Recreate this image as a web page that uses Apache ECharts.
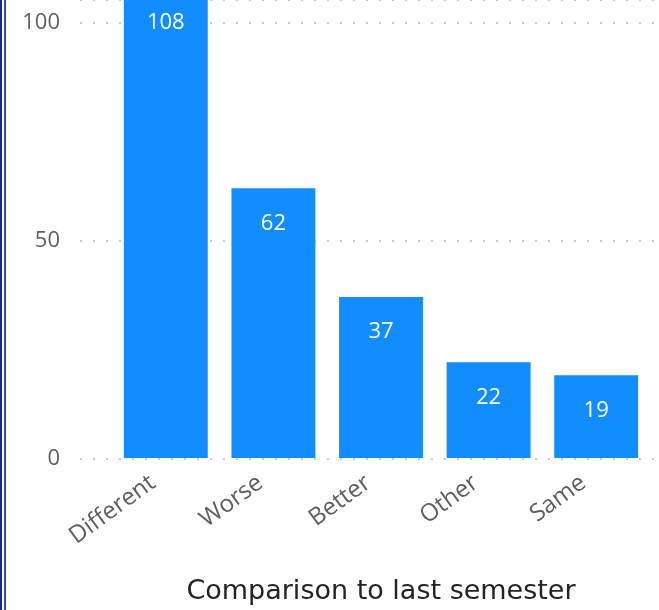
<!DOCTYPE html>
<html><head><meta charset="utf-8">
<script src="https://cdn.jsdelivr.net/npm/echarts@6/dist/echarts.min.js"></script>
<style>html,body{margin:0;padding:0;background:#fff}#c{width:659px;height:610px}</style>
</head><body><div id="c"></div>
<script>
const categories = ['Different', 'Worse', 'Better', 'Other', 'Same'];
const counts = [108, 62, 37, 22, 19];
const yTicks = [0, 50, 100];

const font = '"Open Sans", "Noto Sans", sans-serif';
const titleFont = '"DejaVu Sans", sans-serif';
const yMax = 105.28;
const chart = echarts.init(document.getElementById('c'));
chart.setOption({
  animation: false,
  graphic: [
    { type: 'rect', shape: { x: 0, y: 0, width: 2, height: 610 }, style: { fill: '#1d2896' } },
    { type: 'rect', shape: { x: 4, y: 0, width: 2, height: 610 }, style: { fill: '#3646b8' } }
  ],
  grid: [
    { left: 80, right: 0, top: 0, bottom: 151 },
    { left: 112, right: 9, top: 0, bottom: 151 }
  ],
  xAxis: [
    { gridIndex: 0, type: 'category', data: categories, show: false },
    { gridIndex: 1, type: 'category', data: categories,
      axisLine: { show: false }, axisTick: { show: false },
      axisLabel: { rotate: 36, fontSize: 24, color: '#605e5c', fontFamily: font, margin: 13,
        padding: [0, 16, 0, 0] },
      name: 'Comparison to last semester', nameLocation: 'middle', nameGap: 120,
      nameTextStyle: { fontSize: 27, color: '#252423', fontFamily: titleFont } }
  ],
  yAxis: [
    { gridIndex: 0, type: 'value', min: 0, max: yMax, interval: 50,
      axisLine: { show: false }, axisTick: { show: false },
      axisLabel: { fontSize: 22, color: '#605e5c', fontFamily: font, margin: 20,
        formatter: v => yTicks.includes(v) ? String(v) : '' },
      splitLine: { show: true, lineStyle: { color: '#c8c8c8', width: 2, type: [2, 11] } } },
    { gridIndex: 1, type: 'value', min: 0, max: yMax, interval: 50, show: false,
      splitLine: { show: false } }
  ],
  series: [{
    type: 'bar', xAxisIndex: 1, yAxisIndex: 1, data: counts, clip: false,
    barCategoryGap: '22%',
    itemStyle: { color: '#118dff' },
    label: { show: true, position: 'insideTop', distance: 24, color: '#fff', fontSize: 22, fontFamily: font }
  }]
});
</script></body></html>
